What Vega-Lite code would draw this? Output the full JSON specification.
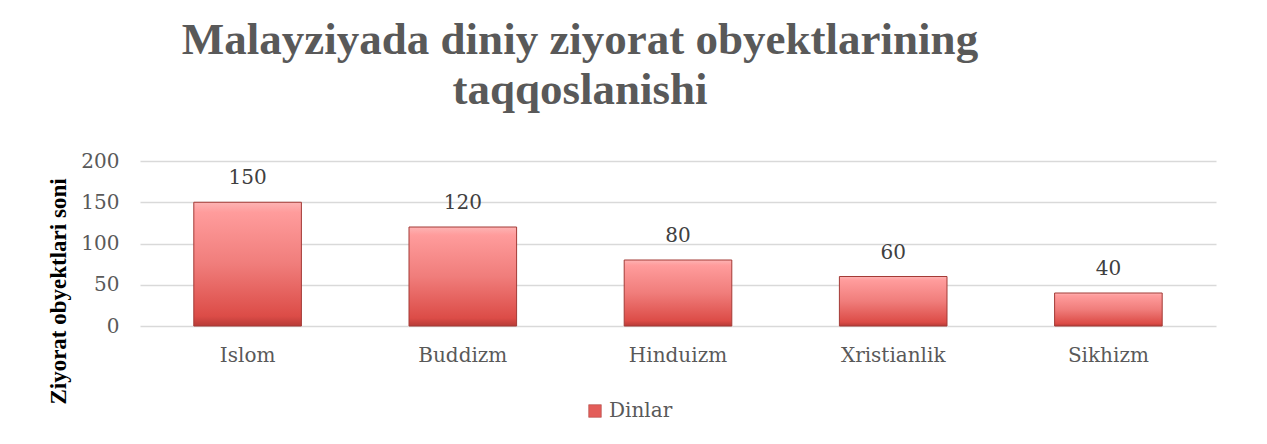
{
  "$schema": "https://vega.github.io/schema/vega-lite/v6.json",
  "autosize": "none",
  "width": 1076,
  "height": 165,
  "padding": {"left": 140, "top": 161, "right": 51, "bottom": 118},
  "background": "white",
  "config": {"view": {"stroke": null}},
  "title": {
    "text": ["Malayziyada diniy ziyorat obyektlarining", "taqqoslanishi"],
    "font": "Liberation Serif",
    "fontSize": 45,
    "fontWeight": "bold",
    "color": "#595959",
    "lineHeight": 50,
    "anchor": "middle",
    "dx": -98,
    "offset": 38
  },
  "data": {
    "values": [
      {"din": "Islom", "soni": 150, "seriya": "Dinlar"},
      {"din": "Buddizm", "soni": 120, "seriya": "Dinlar"},
      {"din": "Hinduizm", "soni": 80, "seriya": "Dinlar"},
      {"din": "Xristianlik", "soni": 60, "seriya": "Dinlar"},
      {"din": "Sikhizm", "soni": 40, "seriya": "Dinlar"}
    ]
  },
  "encoding": {
    "x": {
      "field": "din",
      "type": "nominal",
      "sort": null,
      "scale": {"paddingInner": 0.5, "paddingOuter": 0.25},
      "axis": {
        "title": null,
        "labelAngle": 0,
        "labelFont": "DejaVu Serif",
        "labelFontSize": 20,
        "labelColor": "#595959",
        "labelPadding": 19,
        "domain": false,
        "ticks": false
      }
    },
    "y": {
      "field": "soni",
      "type": "quantitative",
      "scale": {"domain": [0, 200], "nice": false},
      "axis": {
        "values": [0, 50, 100, 150, 200],
        "title": "Ziyorat obyektlari soni",
        "titleFont": "Liberation Serif",
        "titleFontSize": 23,
        "titleFontWeight": "bold",
        "titleColor": "#000000",
        "titleAngle": -90,
        "titleAlign": "center",
        "titleBaseline": "middle",
        "titleX": -82,
        "titleY": 130,
        "labelFont": "DejaVu Serif",
        "labelFontSize": 20,
        "labelColor": "#595959",
        "labelPadding": 21,
        "domain": false,
        "ticks": false,
        "gridColor": "#d9d9d9",
        "gridWidth": 1.5
      }
    }
  },
  "layer": [
    {
      "mark": {"type": "bar", "opacity": 0},
      "encoding": {
        "color": {
          "field": "seriya",
          "type": "nominal",
          "scale": {"range": ["#e35d59"]},
          "legend": {
            "title": null,
            "orient": "none",
            "legendX": 445,
            "legendY": 240,
            "symbolType": "square",
            "symbolSize": 160,
            "symbolOpacity": 1,
            "symbolStrokeColor": "#a33a36",
            "symbolStrokeWidth": 0.5,
            "labelFont": "DejaVu Serif",
            "labelFontSize": 20,
            "labelColor": "#595959",
            "labelOffset": 4
          }
        }
      }
    },
    {
      "mark": {
        "type": "bar",
        "stroke": "#a33a36",
        "strokeWidth": 1,
        "color": {
          "gradient": "linear",
          "x1": 0, "y1": 0, "x2": 0, "y2": 1,
          "stops": [
            {"offset": 0, "color": "#fdb4b4"},
            {"offset": 0.08, "color": "#ff9c9c"},
            {"offset": 0.5, "color": "#f07d7b"},
            {"offset": 0.92, "color": "#dc4c47"},
            {"offset": 1, "color": "#b83b37"}
          ]
        }
      }
    },
    {
      "mark": {
        "type": "text",
        "baseline": "alphabetic",
        "dy": -18,
        "font": "DejaVu Serif",
        "fontSize": 20,
        "color": "#404040"
      },
      "encoding": {"text": {"field": "soni", "type": "quantitative"}}
    }
  ]
}
